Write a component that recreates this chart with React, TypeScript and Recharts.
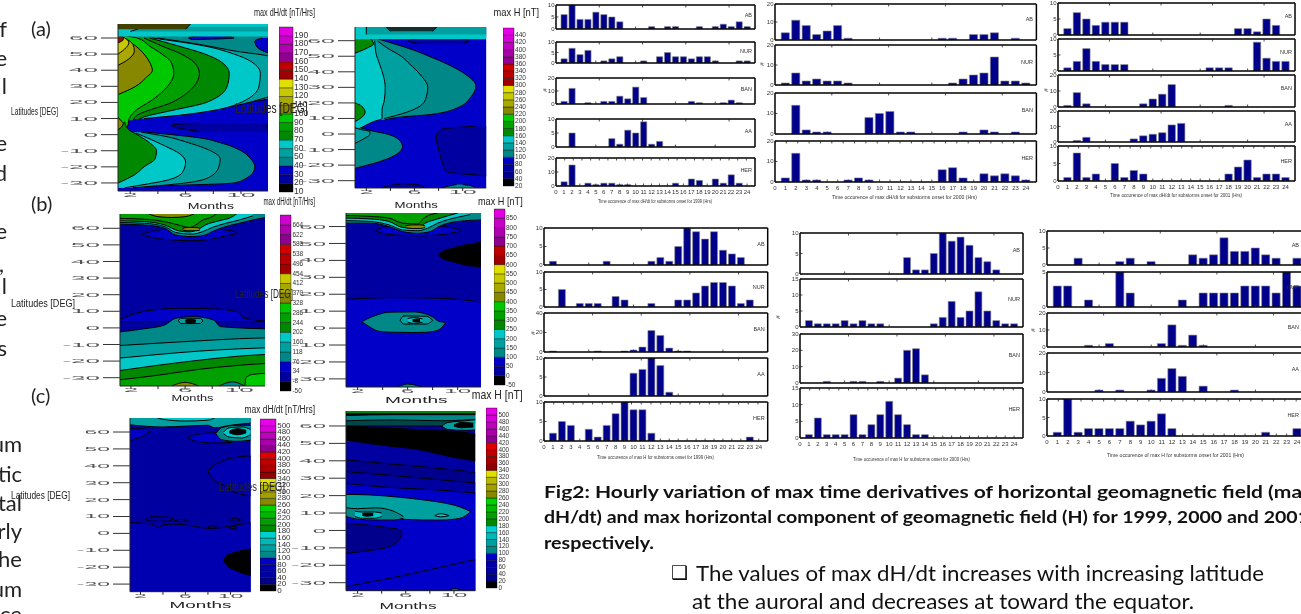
import React from 'react';
import { BarChart, Bar, ComposedChart, Area, XAxis, YAxis } from 'recharts';

// ---------- histogram data: hours 1..24 ----------
const hours = [1,2,3,4,5,6,7,8,9,10,11,12,13,14,15,16,17,18,19,20,21,22,23,24];
const dh1999AB = [6,10,4,4,7,6,5,3,0,0,0,1,0,1,1,0,0,1,0,1,2,1,3,1];
const dh1999NUR = [2,7,4,6,0,1,2,3,0,0,1,0,3,5,3,3,2,3,3,1,0,0,1,1];
const dh1999BAN = [2,12,0,1,0,2,2,6,4,13,5,0,0,0,0,0,2,1,0,0,1,3,1,0];
const dh1999AA = [0,5,0,0,0,0,3,1,6,5,9,1,2,0,0,0,0,0,0,0,0,0,0,0];
const dh1999HER = [3,15,0,2,1,2,2,1,1,0,0,0,0,0,2,0,5,4,0,5,2,8,2,0];
const dh2000AB = [4,11,8,3,5,8,1,0,0,0,0,0,0,0,0,1,1,0,3,3,4,0,1,0];
const dh2000NUR = [1,6,2,3,2,2,1,0,0,0,0,0,0,0,0,0,1,3,5,6,14,2,2,1];
const dh2000BAN = [0,14,2,1,1,0,0,0,8,10,11,1,1,0,0,0,0,1,0,2,1,0,1,0];
const dh2000HER = [2,14,1,1,0,0,1,2,1,0,0,0,0,0,0,6,7,2,0,4,3,4,3,1];
const dh2001AB = [2,7,5,3,4,4,4,0,0,0,0,0,0,0,0,0,0,0,2,2,1,5,3,0];
const dh2001NUR = [1,3,7,3,2,2,2,0,0,0,0,0,0,0,0,1,1,1,0,0,9,4,3,3];
const dh2001BAN = [1,9,2,0,0,0,0,0,2,5,8,14,0,0,0,0,0,1,0,0,0,0,0,0];
const dh2001AA = [0,1,3,0,0,0,0,2,4,5,6,11,12,0,0,0,0,0,0,0,0,0,0,0];
const dh2001HER = [1,8,1,2,0,5,1,3,2,0,0,0,0,0,0,0,0,2,4,6,1,2,2,1];
const h1999AB = [1,0,0,0,0,0,1,0,0,0,0,1,2,1,5,10,9,7,9,4,3,2,0,0];
const h1999NUR = [0,5,0,1,1,1,0,3,2,0,0,1,0,0,2,2,4,6,7,7,6,1,2,0];
const h1999BAN = [1,0,0,0,0,1,0,0,1,2,5,22,17,4,1,1,0,0,0,0,0,0,0,0];
const h1999AA = [0,0,0,0,0,0,0,0,0,6,7,10,8,1,0,0,0,0,0,0,0,0,0,0];
const h1999HER = [2,5,4,0,3,1,4,7,10,8,8,2,0,0,0,0,0,0,0,0,0,0,1,0];
const h2000AB = [0,0,0,0,0,0,0,0,0,0,0,4,1,1,5,10,8,9,7,4,3,1,0,0];
const h2000NUR = [2,1,1,1,2,1,2,1,1,0,0,0,0,0,1,3,8,3,5,11,5,2,1,1];
const h2000BAN = [0,0,1,0,0,1,1,0,1,0,3,20,21,5,0,0,0,0,0,0,0,0,0,0];
const h2000HER = [1,6,1,1,1,7,1,4,7,11,7,4,1,1,0,0,0,0,0,0,0,0,0,0];
const h2001AB = [0,0,2,0,0,0,1,2,0,1,0,0,0,3,2,3,8,4,4,5,3,2,0,2];
const h2001NUR = [3,3,0,1,0,0,5,2,0,0,0,0,1,0,2,2,2,2,3,3,3,2,5,3];
const h2001BAN = [0,0,0,1,0,2,0,0,0,0,2,13,1,7,1,0,0,0,0,0,0,0,0,0];
const h2001AA = [0,0,0,0,1,0,1,0,0,1,7,12,8,0,3,0,0,1,0,0,0,0,0,0];
const h2001HER = [1,10,1,2,2,2,2,4,3,4,6,2,0,0,0,0,0,0,0,0,1,0,0,2];

const hist = [
  {n:'AB',v:dh1999AB,m:10,x0:556,x1:755,y0:5,y1:29},
  {n:'NUR',v:dh1999NUR,m:10,x0:556,x1:755,y0:42,y1:63},
  {n:'BAN',v:dh1999BAN,m:20,x0:556,x1:755,y0:78,y1:104},
  {n:'AA',v:dh1999AA,m:10,x0:556,x1:755,y0:119,y1:147},
  {n:'HER',v:dh1999HER,m:20,x0:556,x1:755,y0:158,y1:186,last:1},
  {n:'AB',v:dh2000AB,m:20,x0:774.6,x1:1036,y0:4,y1:40},
  {n:'NUR',v:dh2000NUR,m:20,x0:774.6,x1:1036,y0:45,y1:85},
  {n:'BAN',v:dh2000BAN,m:20,x0:774.6,x1:1036,y0:93,y1:134},
  {n:'HER',v:dh2000HER,m:20,x0:774.6,x1:1036,y0:141,y1:182,last:1},
  {n:'AB',v:dh2001AB,m:10,x0:1058,x1:1295,y0:3,y1:35},
  {n:'NUR',v:dh2001NUR,m:10,x0:1058,x1:1295,y0:39,y1:71},
  {n:'BAN',v:dh2001BAN,m:20,x0:1058,x1:1295,y0:75,y1:107},
  {n:'AA',v:dh2001AA,m:20,x0:1058,x1:1295,y0:111,y1:142},
  {n:'HER',v:dh2001HER,m:10,x0:1058,x1:1295,y0:146,y1:181,last:1},
  {n:'AB',v:h1999AB,m:10,x0:544,x1:767.7,y0:228,y1:265},
  {n:'NUR',v:h1999NUR,m:10,x0:544,x1:767.7,y0:272,y1:307},
  {n:'BAN',v:h1999BAN,m:40,x0:544,x1:767.7,y0:313,y1:352},
  {n:'AA',v:h1999AA,m:10,x0:544,x1:767.7,y0:358,y1:396},
  {n:'HER',v:h1999HER,m:10,x0:544,x1:767.7,y0:402,y1:441,last:1},
  {n:'AB',v:h2000AB,m:10,x0:800,x1:1023,y0:233,y1:274},
  {n:'NUR',v:h2000NUR,m:15,x0:800,x1:1023,y0:279,y1:327},
  {n:'BAN',v:h2000BAN,m:30,x0:800,x1:1023,y0:334,y1:383},
  {n:'HER',v:h2000HER,m:15,x0:800,x1:1023,y0:388,y1:438,last:1},
  {n:'AB',v:h2001AB,m:10,x0:1046.5,x1:1307,y0:231,y1:265},
  {n:'NUR',v:h2001NUR,m:5,x0:1046.5,x1:1307,y0:272,y1:307},
  {n:'BAN',v:h2001BAN,m:20,x0:1046.5,x1:1307,y0:313,y1:347},
  {n:'AA',v:h2001AA,m:20,x0:1046.5,x1:1307,y0:353,y1:392},
  {n:'HER',v:h2001HER,m:10,x0:1046.5,x1:1307,y0:399,y1:436,last:1},
];
const yTicksFor: Record<number, number[]> = {5:[0,5],10:[0,5,10],15:[0,5,10,15],20:[0,10,20],30:[0,10,20,30],40:[0,20,40]};
const allHourTicks = [0,...hours];
const fewHourTicks = [5,10,15,20];

// ---------- colours ----------
const BK='#000000',N1='#00008c',N2='#0000a0',N3='#0000c8',T1='#008888',T2='#00a0a0',T3='#00c8c8',G1='#008800',G2='#00a000',G3='#00c800',O1='#888800',O2='#a8a800',O3='#c8c800',Y1='#e0e000',R1='#a00000',R2='#c00000';
const cb19=[BK,N2,N3,T1,T2,T3,G1,G2,G3,O1,O2,O3,Y1,R1,R2,'#900090','#b000b0','#c800c8','#e000e0'];
const cb22=[BK,N1,N2,N3,T1,T2,T3,G1,G2,G3,O1,O2,O3,Y1,R1,'#b80000','#d00000','#900090','#a800a8','#c000c0','#d800d8','#e800e8'];
const cb18=[BK,N2,N3,T1,T2,T3,G1,G2,G3,O1,O2,O3,R1,'#b80000','#d00000','#900090','#b000b0','#d000d0'];
const cb26=[BK,N1,N2,'#0000b0',N3,T1,T2,'#00b8b8','#00d0d0',G1,G2,'#00b800','#00d000',O1,'#a0a000','#b8b800',Y1,'#900000','#a80000',R2,'#e00000','#900090','#a800a8','#c000c0','#d800d8','#e800e8'];

// ---------- colour bar tick labels ----------
const lbA1=['10','20','30','40','50','60','70','80','90','100','110','120','130','140','150','160','170','180','190'];
const lbA2=['20','40','60','80','100','120','140','160','180','200','220','240','260','280','300','320','340','360','380','400','420','440'];
const lbB1=['-50','-8','34','76','118','160','202','244','286','328','370','412','454','496','538','580','622','664'];
const lbB2=['-50','0','50','100','150','200','250','300','350','400','450','500','550','600','650','700','750','800','850'];
const lbC=['0','20','40','60','80','100','120','140','160','180','200','220','240','260','280','300','320','340','360','380','400','420','440','460','480','500'];

// ---------- contour panels ----------
const latTicks=[60,50,40,30,20,10,0,-10,-20,-30];
const monthTicks=[2,4,6,8,10];
const monthLabels=[2,6,10];

// (a) left: [latitude, month] or [latitude, month, month]
const a1Base=[[-36,1,12.2],[70,1,12.2]];
const a1Far=[[10,2.5],[11,3],[13,5.5],[16,8],[20,10.5],[23,12.2],[70,12.2]];
const a1BlueR=[[50,12.2,12.2],[54,11.2,12.2],[58,11,12.2],[60,11.5,12.2]];
const a1BlueM=[[59,6.5,6.5],[60,6.2,9.5],[61,6.6,9.2],[62,8,8]];
const a1Teal=[[11,3],[13,6],[17,9],[21,11],[25,12.2],[48,12.2],[52,9.5],[56,7],[60,4]];
const a1Cyan=[[10,3],[12,5.5],[15,8],[20,10],[30,11.3],[38,11.4],[45,10.8],[50,9.5],[55,7.4],[60,3.6]];
const a1Dk=[[9.5,2.6],[11,3],[15,5],[20,7.5],[30,9],[38,9.15],[45,8.6],[50,7.4],[55,5.5],[60,3.4]];
const a1Mid=[[9,2.2],[12,2.5],[20,5],[30,6.6],[38,7],[45,6.6],[50,5.7],[55,4.3],[60,3]];
const a1Br=[[-1,1.12],[5,1.8],[10,1.93],[15,2.4],[21,3.5],[30,4.7],[38,5.15],[45,4.95],[50,4.3],[55,3.4],[60,2.5],[62,1.12]];
const a1Ol=[[25,1.15],[30,2.4],[35,3.1],[40,3.6],[45,3.4],[50,3],[55,2.4],[60,1.5]];
const a1Ol2=[[43,1.12],[47,1.9],[52,2.3],[56,2.2],[60,1.6]];
const a1Yl=[[50,1.12],[54,1.7],[57,1.9],[60,1.6],[61,1.12]];
const a1Red=[[57,1.12],[59,1.5],[60.5,1.5],[62,1.12]];
const a1L1=[[-32,3],[-30,9.5],[-27,10.4],[-23,10.9],[-20,11],[-15,10.7],[-10,10],[-5,8.5],[-2,7],[0,5],[1.5,3.2]];
const a1L2=[[-33,2.2],[-30,6],[-26,7.8],[-20,8.4],[-15,8.5],[-10,7.8],[-5,6.2],[-1,4.5],[1.5,2.8]];
const a1L3=[[-33,1.6],[-31,3],[-28,4.8],[-23,5.8],[-17,6],[-12,5.6],[-7,4.5],[-3,3.5],[1,2.4]];
const a1L4=[[-30,1.12],[-25,2.3],[-20,3],[-15,3.8],[-10,3.9],[-5,3.4],[0,2.5],[3,1.9],[8,1.6]];
const a1Oval=[[2,7,11.9],[4,5.5,11.9],[6,5,11.9],[7,7,11.9]];
const a1Swirl=[[3,1.12],[5,1.4],[7,1.5],[9,1.3],[11,1.12]];
const a1Top1=[[61,1,12.2],[70,1,12.2]];
const a1Top2=[[64,2,12.2],[67,3,12.2]];
const a1Top3=[[65.5,1,6],[70,1,6.5]];

// (a) right
const a2Base=[[-36,1,12.2],[70,1,12.2]];
const a2DkR=[[-27,12.2,12.2],[-24,8.6,12.2],[-18,8.3,12.2],[-10,8,12.2],[-2,7.8,12.2],[3,8.2,12.2],[5,11,12.2]];
const a2Dk=[[9,3.5],[11,5],[12.5,7.3],[17,9.6],[24,10.7],[31,11.1],[38,10.3],[45,8.7],[50,7.2],[54,5.9],[58,4.3],[61,3]];
const a2Teal=[[10,3.5],[12,4.5],[16,6],[22,6.9],[30,7.1],[38,6.5],[45,5.6],[50,4.9],[55,3.8],[60,2.9]];
const a2Cyan=[[2,1.06],[5,1.8],[8,2.6],[10,3.3],[15,3.3],[22,3.5],[30,3.57],[38,3.4],[45,3.1],[52,2.8],[60,2.7]];
const a2Gr1=[[52,1.06],[55,2],[58,2.6],[62,2.2],[64,1.06]];
const a2Gr2=[[8,1.06],[10,1.5],[14,1.9],[18,1.6],[20,1.06]];
const a2L1=[[-22,1.06],[-18,3],[-14,4.3],[-8,5],[-3,4.6],[0,3.7],[2,2.5],[4,1.5]];
const a2L2=[[-6,1.06],[-3,1.8],[0,2.3],[1.5,2.3],[3,1.5],[4,1.06]];
const a2Top=[[61,1,12.2],[70,1,12.2]];
const a2Top2=[[64,2,12.2],[70,2,12.2]];
const a2TopDk=[[66,4,7.5],[70,3.5,8]];
const a2NavyT=[[58,6.5,10],[60,5.5,10.5],[62,7,9]];
const a2Bot1=[[-36,3,7],[-33,4,6.5],[-32,5,5.2]];
const a2Bot2=[[-36,8,11.2],[-33.5,8.8,10.8],[-32.5,9.5,10]];

// (b) left: [month, latitude] or [month, latitude, latitude]
const b1Base=[[1,-36,70],[12.2,-36,70]];
const b1Bright=[[1,4.5],[3,10],[5.6,11.8],[8,11.5],[10,9.5],[10.3,6],[12.2,4]];
const b1Dk=[[1,-2.6],[3,-0.5],[4.5,1.8],[5.3,5.8],[6.6,6.8],[8.1,4.8],[8.6,0.8],[10,0],[12.2,-0.6]];
const b1Teal=[[1,-10.7],[4,-9.2],[7,-7.8],[10,-6.5],[12.2,-5.9]];
const b1Cyan=[[1,-18.3],[4,-16],[7,-14],[10,-12.6],[12.2,-11.9]];
const b1DkG=[[1,-25.9],[4,-22.5],[7,-19.5],[10,-17],[12.2,-15.9]];
const b1MidG=[[1,-31.4],[4,-28.5],[7,-25],[10,-22.5],[12.2,-21.3]];
const b1BrG=[[10.4,-36,-36],[10.5,-36,-30],[11,-36,-28],[12.2,-36,-27.3]];
const b1Ol=[[5,-36,-35],[6,-36,-32.8],[7,-36,-35]];
const b1Lens=[[8.5,-36,-35],[9.5,-36,-32.5],[10.4,-36,-35]];
const b1T1=[[5.5,4.6,4.6],[5.7,2.6,5.8],[7.1,2.6,5.8],[7.3,4.2,4.2]];
const b1T2=[[6,3.6,4.6],[6.4,3,5.2],[6.8,3.6,4.6]];
const b1Ell=[[2.8,56.5,56.5],[3.5,54.5,58],[5,53,60],[6.5,52.5,60.5],[8,53.5,60],[9,55.5,59],[9.9,57,57.5]];
const b1TopDk=[[1,62.5,70],[3,62,70],[4.5,60,70],[5.3,56,70],[6.5,55,70],[7.5,56,70],[8,58,70],[9,61,70],[10,63,70],[11,65,70],[12.2,67,70]];
const b1TopCy=[[1,63.5,70],[3,63,70],[4.5,61,70],[5.3,57.5,70],[6.5,56.5,70],[7.3,58,70],[8,60.5,70],[9,63,70],[10,65,70],[11,67.5,70]];
const b1TopDg=[[1,64.5,70],[3,64,70],[4.5,62,70],[5.5,58.5,70],[6.3,57.8,70],[7,59.5,70],[7.5,62,70],[8.5,64.5,70],[9.5,67,70],[10,70,70]];
const b1TopMg=[[1,66,70],[3,65.5,70],[4.5,64,70],[5.5,62,70],[6.3,60.5,70],[6.8,62,70],[7.2,64.5,70],[8,67,70],[8.5,70,70]];
const b1TopOl=[[3,70,70],[4,67,70],[5,66.5,70],[6,67,70],[7,70,70]];
const b1Tgt=[[5.8,59,60],[6.2,58.5,60.5],[6.8,58.5,60.5],[7.1,59,60]];

// (b) right
const b2Base=[[1,-36,70],[12.2,-36,70]];
const b2Low=[[1,17],[5,18],[9,17.5],[12.2,15]];
const b2Blk=[[8.47,43,43],[8.7,41.5,45],[9.5,39.5,47],[10.5,37.5,49],[12.2,36,51]];
const b2Lens=[[2.33,3.7,3.7],[2.7,2,5.2],[3.65,-1.8,8],[4.5,-2.4,9.4],[6.4,-2.6,9.6],[7.4,-2.5,8.5],[8,-2,6.6],[8.5,-1,4],[9.02,3,3.4]];
const b2T1=[[5.4,4.6,4.6],[5.7,2.4,7.2],[7.5,2.4,7],[8,4.5,4.7]];
const b2T2=[[6,3.5,5.6],[6.5,2.8,6.2],[7.2,3.6,5.4]];
const b2T3=[[6.4,4,5],[6.8,3.6,5.4],[7,4,5]];
const b2Ell=[[3.4,57.5,57.5],[4,56,59.5],[5,55,60.5],[7,54.5,61],[9,55.5,60],[10.3,57.5,58]];
const b2TopDk=[[1,62,70],[3,62,70],[4.5,60,70],[5.6,57,70],[6.8,56,70],[7.8,57,70],[8.5,60,70],[10,63,70],[12.2,64,70]];
const b2TopCy=[[1,63.5,70],[3,63,70],[4.5,61,70],[5.6,58,70],[6.8,57.5,70],[7.6,59,70],[8.4,62,70],[10,65.5,70],[11,67,70]];
const b2TopDg=[[1,65,70],[3,64.5,70],[4.5,63,70],[5.6,59.5,70],[6.8,59,70],[7.4,62,70],[8.4,64.5,70],[10,68,70]];
const b2TopMg=[[1,66.5,70],[3,66,70],[4.5,65,70],[5.6,62,70],[6.8,61.5,70],[7.3,65,70],[8.4,68,70]];
const b2Tgt=[[5.8,59.4,60.4],[6.4,58.8,61],[7,58.8,61],[7.4,59.4,60.4]];
const b2Bot=[[5,-36,-36],[6,-36,-33],[7.5,-36,-36]];

// (c) left
const c1Base=[[1,-36,70],[12.2,-36,70]];
const c1Low=[[1,6.4],[3,5.5],[3.6,3.5],[4,5],[5,5.5],[6,5],[7,4],[8,3],[9,3.2],[10,4.5],[12.2,6.5]];
const c1Ell=[[8,36.5,37],[8.5,32,40],[9.5,28,43.5],[10.5,24,45],[12.2,22,46]];
const c1Blk=[[9.4,-16,-16],[9.7,-19,-13],[10.5,-22,-11],[12.2,-25.6,-8.8]];
const c1S1=[[2.4,8.5,8.5],[3,7.2,9.8],[4.4,7.2,9.6],[4.9,8.5,8.5]];
const c1S2=[[5,7.6,7.6],[5.6,6.9,8.2],[6.2,7.6,7.6]];
const c1S3=[[9.9,8,8],[10.4,7,9],[10.9,8,8]];
const c1S4=[[8,3.6,3.6],[8.4,2.8,4.4],[8.8,3.6,3.6]];
const c1S5=[[9.9,3.4,3.4],[10.3,2.6,4.2],[10.6,3.4,3.4]];
const c1TL=[[1,55,62],[2,57,62],[2.8,60,61]];
const c1Big=[[6.2,56.5,56.5],[7,54.5,58.5],[8.5,53.5,59.5],[10,53.8,59.5],[10.6,56,58]];
const c1Top=[[1,64.3,70],[4,63,70],[6,63.5,70],[8,64,70],[8.6,62.5,70],[10,64,70],[12.2,65.5,70]];
const c1TopCy=[[3,70,70],[4,67.5,70],[6,66.5,70],[8,67,70],[9,70,70]];
const c1Tgt1=[[8.7,59,59],[9.2,55.5,62.5],[10.5,54.5,64],[12.2,55.5,64]];
const c1Tgt2=[[9.4,59,60],[9.9,57,62.5],[11,56.5,63],[11.8,58.5,61.5]];
const c1Tgt3=[[9.9,59.5,60.5],[10.6,58.4,62],[11.4,59.5,61]];

// (c) right
const c2Base=[[1,-36,70],[12.2,-36,70]];
const c2B1=[[1,27],[4,25],[8,23.5],[12.2,21.3]];
const c2Teal=[[1,8,20.7],[3,8,20.4],[5.6,6.5,19],[7.5,6,17.5],[9,6,16],[10.5,7,13.5],[11.4,10.8,10.8]];
const c2Blk=[[1,52,60],[4,49,59],[7,46.5,58],[10,42,57],[12.2,39.5,55]];
const c2L1=[[1,33.8],[5,31.5],[9,29],[12.2,27]];
const c2L2=[[1,40.5],[5,38],[9,35.5],[12.2,33]];
const c2Tg1=[[1.05,8,13],[2,6.5,12.5],[3.5,6,13],[5,6,11],[5.8,7,8]];
const c2Tg2=[[1.8,8,11],[2.4,7,10.6],[3.4,7,10.6],[4,8,10]];
const c2Tg3=[[2.4,8.6,9.8],[2.8,8.2,10],[3.3,8.6,9.8]];
const c2Tg4=[[8.4,8.5,8.5],[8.9,7.8,9.6],[9.6,8.5,8.5]];
const c2Lob=[[1,-13.2,4],[3,-11.5,3],[4.6,-9.4,1.5],[5.4,-5.8,0.5],[5.71,-2,-0.7]];
const c2Diag=[[1,-36,-32.3],[5,-36,-27],[9,-36,-21],[12.2,-36,-16]];
const c2Bot=[[9.5,-36,-36],[10,-36,-33.4],[11.2,-36,-36]];
const c2Top=[[1,60,70],[5,60,70],[9,60,70],[12.2,62,70]];
const c2Top2=[[1,63,70],[5,63.5,70],[9,63,70],[12.2,64,70]];
const c2Top3=[[1,66,70],[5,66.5,70],[9,66.5,70],[12.2,66.5,70]];
const c2Top4=[[1,67,70],[5,67,70],[9,67,70],[12.2,67,70]];
const c2Tr1=[[9,60,60],[9.5,58,62],[11,57.5,63],[12.2,58,64]];
const c2Tr2=[[10,60,60.5],[10.6,59,62],[11.6,59.4,61.6]];

const panels:any[]=[
 {x0:118,x1:268,y0:24,y1:191,lat:[-35,68.7],mon:[1.12,11.95],vert:true,fs:[2.6,.6],layers:[
  [a1Base,N3],[a1Far,T1],[a1BlueR,N3],[a1BlueM,N3],[a1Teal,T2],[a1Cyan,T3],[a1Dk,G1],[a1Mid,G2],[a1Br,G3],[a1Ol,O1],[a1Ol2,O2],[a1Yl,O3],[a1Red,'#901000'],
  [a1L1,T1],[a1L2,T2],[a1L3,T3],[a1L4,G1],[a1Oval,N2],[a1Swirl,O1],[a1Top1,T3],[a1Top2,T2],[a1Top3,'#404000']]},
 {x0:355.4,x1:486.6,y0:27,y1:188,lat:[-34.7,68.8],mon:[1.06,11.95],vert:true,fs:[2.5,.6],layers:[
  [a2Base,N3],[a2DkR,N2],[a2Dk,T1],[a2Teal,T2],[a2Cyan,T3],[a2Gr1,G1],[a2Gr2,G1],[a2L1,T1],[a2L2,T2],[a2NavyT,N2],[a2Top,T3],[a2Top2,T2],[a2TopDk,'#103030'],[a2Bot1,N2],[a2Bot2,T1]]},
 {x0:119.8,x1:265.5,y0:214,y1:386,lat:[-35,68.6],mon:[1.19,11.95],vert:false,fs:[2.6,.6],layers:[
  [b1Base,N2],[b1Bright,N3,[3.8]],[b1Dk,T1],[b1Teal,T2],[b1Cyan,T3],[b1DkG,G1],[b1MidG,G2],[b1BrG,G3],[b1Ol,O1],[b1Lens,T1],[b1T1,T2],[b1T2,BK],[b1Ell,N3],[b1TopDk,T1],[b1TopCy,T3],[b1TopDg,G1],[b1TopMg,G2],[b1TopOl,O1],[b1Tgt,O1]]},
 {x0:346.4,x1:481.4,y0:212.7,y1:386.7,lat:[-34.8,68],mon:[1.07,11.87],vert:false,fs:[2.4,.6],layers:[
  [b2Base,N2],[b2Low,N3],[b2Blk,BK],[b2Lens,T1],[b2T1,T2],[b2T2,T3],[b2T3,BK],[b2Bot,T1],[b2Ell,N3],[b2TopDk,T1],[b2TopCy,T3],[b2TopDg,G1],[b2TopMg,G2],[b2Tgt,O1]]},
 {x0:130,x1:250.7,y0:418,y1:591.7,lat:[-34.5,68.3],mon:[1.07,11.8],vert:false,fs:[2.3,.6],layers:[
  [c1Base,N2],[c1Low,'#0000b0'],[c1Ell,'#0000b0'],[c1Blk,BK],[c1S1,N2],[c1S2,N2],[c1S3,N2],[c1S4,N2],[c1S5,N2],[c1TL,N3],[c1Big,N3],[c1Top,T2],[c1TopCy,T3],[c1Tgt1,T1],[c1Tgt2,T3],[c1Tgt3,BK]]},
 {x0:346.4,x1:475.6,y0:411,y1:590.7,lat:[-34.6,68.6],mon:[1.04,11.76],vert:false,fs:[2.4,.6],layers:[
  [c2Base,N2],[c2L2,N1],[c2L1,N2],[c2B1,N3],[c2Blk,BK],[c2Teal,T2],[c2Tg1,T1],[c2Tg2,T3],[c2Tg3,BK],[c2Tg4,T3],[c2Lob,N1],[c2Diag,N3],[c2Bot,T1],[c2Top,'#004848'],[c2Top2,T1],[c2Top3,BK],[c2Top4,G1],[c2Tr1,T2],[c2Tr2,BK]]},
];
const colorbars:any[]=[
 {x0:279,x1:293,y0:27,y1:192,cols:cb19,labels:lbA1,fs:8.5},
 {x0:503.4,x1:514.5,y0:28,y1:186,cols:cb22,labels:lbA2,fs:6.5},
 {x0:279.6,x1:291,y0:215,y1:391,cols:cb18,labels:lbB1,fs:6.5},
 {x0:493.5,x1:504.5,y0:209,y1:385,cols:cb19,labels:lbB2,fs:6.5},
 {x0:260.3,x1:276.5,y0:419,y1:591,cols:cb26,labels:lbC,fs:8},
 {x0:486.2,x1:497.6,y0:408,y1:588,cols:cb26,labels:lbC,fs:6.5},
];

// ---------- text ----------
const SANS='"Liberation Sans",Arial,sans-serif', LATO='Lato,sans-serif';
const narrow:[string,number,number,number,number][]=[
 ['max dH/dt [nT/Hrs]',254,315,12,11],['max H [nT]',493.5,539,12,11],['Latitudes [DEG]',11,58,111,11],['Latitudes [DEG]',235,307.5,108,14],
 ['max dH/dt [nT/Hrs]',263.4,315,201,10],['max H [nT]',478,522.7,201,11],['Latitudes [DEG]',11,75,303,10],['Latitudes [DEG]',235,293,294,12],
 ['max H [nT]',471.8,522.7,394,13],['max dH/dt [nT/Hrs]',244.5,315,409,10],['Latitudes [DEG]',11,70,495,11],['Latitudes [DEG]',219,285,487,12],
];
const months:[number,number,number][]=[[187.7,234,206],[394.6,438,205],[171.5,213.5,398],[385,447.6,400],[169.4,231.4,605],[379.5,436.6,606]];
const yearTitles:[string,number,number,number][]=[
 ['Time occurence of max dH/dt for substorms onset for 1999 (Hrs)',598,712,201],
 ['Time occurence of max dH/dt for substorms onset for 2000 (Hrs)',832,977,197],
 ['Time occurence of max dH/dt for substorms onset for 2001 (Hrs)',1110,1242,195],
 ['Time occurence of max H for substorms onset for 1999 (Hrs)',597,714,457],
 ['Time occurence of max H for substorms onset for 2000 (Hrs)',853,970,459],
 ['Time occurence of max H for substorms onset for 2001 (Hrs)',1107,1244,455],
];
const hashes:[number,number][]=[[547,90],[764,64],[1048,90],[535,333],[780,317],[1035,330]];
const leftEnd:[string,number,number][]=[['f',7,28],['e',7,57],['l',7,85],['e',7,142],['d',7,172],['e',7,230],[',',4,263],['l',7,285],['e',7,317],['s',7,347],['um',22,443],['tic',22,473],['tal',22,502],['rly',22,530],['he',22,558],['um',22,588],['ce',22,613]];
const panelTags:[string,number,number][]=[['(a)',31,28],['(b)',31,203],['(c)',31,395]];
const caption:[string,number,number,number,boolean,number][]=[
 ['Fig2: Hourly variation of max time derivatives of horizontal geomagnetic field (max',544,1313,491.7,true,17],
 ['dH/dt)  and max horizontal component of geomagnetic field (H) for 1999, 2000 and 2001',544,1309,516.7,true,17],
 ['respectively.',544,654,542,true,17],
 ['The values of max dH/dt increases with increasing latitude',696,1264,572,false,22],
 ['at the auroral and decreases at toward the equator.',692,1194,600,false,22],
];

// ---------- components ----------
function HistPanel({p}:{p:any}){
  const w=p.x1-p.x0,h=p.y1-p.y0,L=16,xH=p.last?13:1;
  const data=hours.map((hh,i)=>({h:hh,v:p.v[i]}));
  const ticks=yTicksFor[p.m];
  const sp=w/25;
  const xT=(q:any)=>(<g><line x1={q.x} x2={q.x} y1={q.y} y2={q.y-2.5} stroke="#222" strokeWidth={.8}/>
    {p.last?<text x={q.x} y={q.y+8} fontSize={6} fontFamily={SANS} fill="#333" textAnchor="middle">{q.payload.value}</text>:null}</g>);
  const tT=(q:any)=>(<line x1={q.x} x2={q.x} y1={q.y} y2={q.y+2.5} stroke="#222" strokeWidth={.8}/>);
  const lT=(q:any)=>(<g><line x1={q.x} x2={q.x+2.5} y1={q.y} y2={q.y} stroke="#222" strokeWidth={.8}/>
    <text x={q.x-1.5} y={q.y+2} fontSize={6} fontFamily={SANS} fill="#333" textAnchor="end">{q.payload.value}</text></g>);
  const rT=(q:any)=>(<line x1={q.x} x2={q.x-2.5} y1={q.y} y2={q.y} stroke="#222" strokeWidth={.8}/>);
  const ax={stroke:'#000',strokeWidth:1.5};
  return (
   <div style={{position:'absolute',left:p.x0-L,top:p.y0-3}}>
    <BarChart width={w+L+3} height={h+3+xH+2} data={data} margin={{top:2,right:2,left:0,bottom:2}} barCategoryGap={0}>
      <XAxis dataKey="h" type="number" domain={[0,25]} ticks={p.last?allHourTicks:fewHourTicks} interval={0} height={xH} tickSize={0} tickMargin={0} tick={xT} axisLine={ax} tickLine={false}/>
      <XAxis xAxisId="t" orientation="top" type="number" domain={[0,25]} ticks={p.last?allHourTicks:fewHourTicks} interval={0} height={1} tickSize={0} tickMargin={0} tick={tT} axisLine={ax} tickLine={false}/>
      <YAxis type="number" domain={[0,p.m]} ticks={ticks} interval={0} width={L} tickSize={0} tickMargin={0} tick={lT} axisLine={ax} tickLine={false} allowDataOverflow/>
      <YAxis yAxisId="r" orientation="right" type="number" domain={[0,p.m]} ticks={ticks} interval={0} width={1} tickSize={0} tickMargin={0} tick={rT} axisLine={ax} tickLine={false}/>
      <Bar dataKey="v" fill="#00008a" stroke="#8a8a8a" strokeWidth={.6} barSize={sp*.78} isAnimationActive={false}/>
    </BarChart>
   </div>);
}

function Contour({p}:{p:any}){
  const w=p.x1-p.x0,h=p.y1-p.y0,L=85,B=16;
  const base=p.vert?p.mon[0]-1:p.lat[0]-2;
  const yT=(q:any)=>(<text transform={`translate(${q.x},${q.y}) scale(${p.fs[0]},${p.fs[1]})`} fontSize={10} fontFamily={SANS} fill="#555" textAnchor="end" dominantBaseline="central">{q.payload.value}</text>);
  const xT=(q:any)=> monthLabels.includes(q.payload.value)?(<text transform={`translate(${q.x},${q.y-1}) scale(${p.fs[0]},${p.fs[1]})`} fontSize={10} fontFamily={SANS} fill="#555" textAnchor="middle" dominantBaseline="central">{q.payload.value}</text>):<g/>;
  const axLine={stroke:'#222',strokeWidth:1};
  return (
   <div style={{position:'absolute',left:p.x0-L,top:p.y0}}>
    <ComposedChart width={w+L} height={h+B} layout={p.vert?'vertical':'horizontal'} margin={{top:0,right:0,left:0,bottom:0}}>
      <XAxis type="number" dataKey={p.vert?undefined:'c'} domain={p.mon} allowDataOverflow ticks={monthTicks} interval={0} height={B} tickSize={3} tickMargin={2} tick={xT} tickLine={{stroke:'#222'}} axisLine={axLine}/>
      <YAxis type="number" dataKey={p.vert?'c':undefined} reversed={p.vert} domain={p.lat} allowDataOverflow ticks={latTicks} interval={0} width={L} tickSize={17} tickMargin={3} tick={yT} tickLine={{stroke:'#333'}} axisLine={axLine}/>
      {p.layers.map((l:any,i:number)=>{
        const d=l[0].map((q:number[])=>({c:q[0],r:q.length===3?[q[1],q[2]]:[l[2]?l[2][0]:base,q[1]]}));
        return <Area key={i} data={d} dataKey="r" type="monotone" fill={l[1]} fillOpacity={1} stroke="#000" strokeWidth={1} dot={false} activeDot={false} isAnimationActive={false} legendType="none"/>;
      })}
    </ComposedChart>
   </div>);
}

function ColorBar({c}:{c:any}){
  const w=c.x1-c.x0,h=c.y1-c.y0,R=28,n=c.cols.length,pad=4;
  const row:any={k:'c'};c.cols.forEach((_:string,i:number)=>{row['c'+i]=1;});
  const labs=c.labels;
  const tk=(q:any)=>(<text x={q.x} y={q.y+2} fontSize={c.fs} fontFamily={SANS} fill="#333">{labs[q.payload.value]}</text>);
  return (
   <div style={{position:'absolute',left:c.x0,top:c.y0-pad}}>
    <BarChart width={w+R} height={h+2*pad} data={[row]} margin={{top:pad,right:0,left:0,bottom:pad}} barCategoryGap={0}>
      <XAxis dataKey="k" hide/>
      <YAxis orientation="right" type="number" domain={[0,n]} ticks={labs.map((_:string,i:number)=>i)} interval={0} width={R} tickSize={0} tickMargin={1} tick={tk} axisLine={false} tickLine={false}/>
      {c.cols.map((col:string,i:number)=><Bar key={i} dataKey={'c'+i} stackId="s" fill={col} stroke="#000" strokeWidth={.4} isAnimationActive={false}/>)}
    </BarChart>
   </div>);
}

export default function App(){
  return (
   <div style={{position:'absolute',left:0,top:0,width:1301,height:614,overflow:'hidden',background:'#fff'}}>
    <div style={{position:'absolute',inset:0,filter:'blur(0.45px)'}}>
     {panels.map((p,i)=><React.Fragment key={i}><Contour p={p}/><ColorBar c={colorbars[i]}/></React.Fragment>)}
     {hist.map((p,i)=><HistPanel key={i} p={p}/>)}
     <svg width={1301} height={614} style={{position:'absolute',left:0,top:0,pointerEvents:'none'}}>
      {narrow.map(([t,a,b,y,s],i)=><text key={i} x={a} y={y} textLength={b-a} lengthAdjust="spacingAndGlyphs" fontSize={s} fontFamily={SANS} fill="#222" dominantBaseline="central">{t}</text>)}
      {months.map(([a,b,y],i)=><text key={i} x={a} y={y} textLength={b-a} lengthAdjust="spacingAndGlyphs" fontSize={9} fontFamily={SANS} fill="#222" dominantBaseline="central">Months</text>)}
      {yearTitles.map(([t,a,b,y],i)=><text key={i} x={a} y={y} textLength={b-a} lengthAdjust="spacingAndGlyphs" fontSize={6} fontFamily={SANS} fill="#333" dominantBaseline="central">{t}</text>)}
      {hashes.map(([x,y],i)=><text key={i} x={x} y={y} fontSize={6} fontFamily={SANS} fill="#333" textAnchor="middle" transform={`rotate(-90 ${x} ${y})`}>#</text>)}
      {hist.map((p,i)=><text key={i} x={Math.min(p.x1-3,1299)} y={p.y0+(p.y1-p.y0)*.42} fontSize={5.5} fontFamily={SANS} fill="#333" textAnchor="end" dominantBaseline="central">{p.n}</text>)}
      {leftEnd.map(([t,x,y],i)=><text key={i} x={x} y={y} fontSize={22} fontFamily={LATO} fill="#222" textAnchor="end" dominantBaseline="central">{t}</text>)}
      {panelTags.map(([t,x,y],i)=><text key={i} x={x} y={y} fontSize={20} fontFamily={LATO} fill="#222" dominantBaseline="central">{t}</text>)}
      {caption.map(([t,a,b,y,bold,s],i)=><text key={i} x={a} y={y} textLength={b-a} lengthAdjust="spacingAndGlyphs" fontSize={s} fontWeight={bold?700:400} fontFamily={LATO} fill="#111" dominantBaseline="central">{t}</text>)}
      <text x={671} y={572} fontSize={19} fontFamily={'"DejaVu Sans",sans-serif'} fill="#111" dominantBaseline="central">❑</text>
     </svg>
    </div>
   </div>);
}
